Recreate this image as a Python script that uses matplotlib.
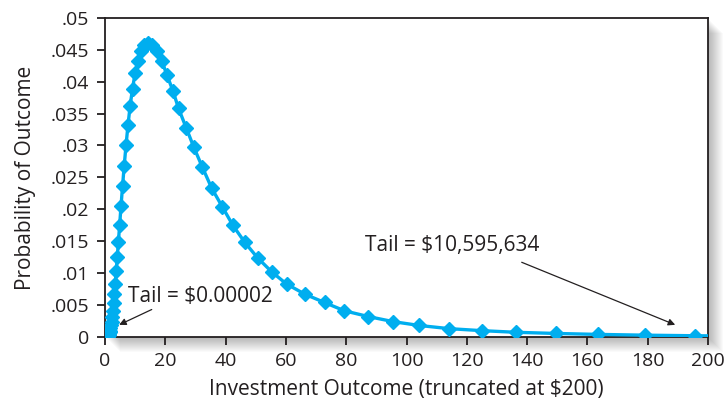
import matplotlib
matplotlib.use("Agg")
import matplotlib.pyplot as plt
from matplotlib.patches import Rectangle

plt.rcParams['font.family'] = ['Open Sans', 'DejaVu Sans']

# outcome nodes (dollars) and their probabilities
outcome = [0.25, 0.27, 0.30, 0.33, 0.36, 0.39, 0.43, 0.47, 0.52, 0.56,
           0.62, 0.68, 0.74, 0.81, 0.88, 0.97, 1.06, 1.16, 1.26, 1.38,
           1.51, 1.66, 1.81, 1.98, 2.17, 2.37, 2.60, 2.84, 3.11, 3.40,
           3.72, 4.07, 4.45, 4.87, 5.32, 5.82, 6.37, 6.97, 7.63, 8.34,
           9.13, 9.98, 10.92, 11.95, 13.07, 14.3, 15.7, 17.2, 18.8, 20.5,
           22.5, 24.4, 26.9, 29.4, 32.2, 35.4, 38.9, 42.4, 46.4, 50.6,
           55.3, 60.2, 66.3, 72.8, 79.4, 87.3, 95.6, 104.2, 114.2, 124.9,
           136.3, 149.5, 163.6, 179.1, 195.7, 214.0]
prob = [0.0, 0.0, 0.0, 0.0, 0.0, 0.000001, 0.000002, 0.000003, 0.000005, 0.000008,
        0.000013, 0.00002, 0.00003, 0.00005, 0.000076, 0.00011, 0.00017, 0.00025, 0.00036, 0.00051,
        0.00071, 0.00099, 0.00135, 0.0018, 0.0024, 0.0032, 0.0041, 0.0053, 0.0067, 0.0083,
        0.0103, 0.0125, 0.0149, 0.0176, 0.0205, 0.0236, 0.0268, 0.0300, 0.0332, 0.0362,
        0.0389, 0.0413, 0.0433, 0.0448, 0.0457, 0.0460, 0.0457, 0.0448, 0.0433, 0.0411,
        0.0386, 0.0358, 0.0328, 0.0298, 0.0267, 0.0233, 0.0204, 0.0175, 0.0148, 0.0124,
        0.0102, 0.0083, 0.0067, 0.0054, 0.0041, 0.0032, 0.0024, 0.0018, 0.0013, 0.00099,
        0.00073, 0.00055, 0.0004, 0.00028, 0.00019, 0.00012]

xticks = [0, 20, 40, 60, 80, 100, 120, 140, 160, 180, 200]
yticks = [0, 0.005, 0.01, 0.015, 0.02, 0.025, 0.03, 0.035, 0.04, 0.045, 0.05]
ytick_labels = ['0', '.005', '.01', '.015', '.02', '.025', '.03', '.035', '.04', '.045', '.05']

blue = '#00aeef'
ink = '#231f20'
fs = 15

fig = plt.figure(figsize=(7.24, 4.05), dpi=100)
ax = fig.add_axes([0.145, 0.168, 0.833, 0.788])
ax.set_zorder(2)
ax.patch.set_facecolor('white')

# soft drop shadow behind the plot box
l, b, w, h = ax.get_position().bounds
for i in range(1, 16):
    dx = i * 1.0 / 724
    dy = i * 1.0 / 405
    fig.patches.append(Rectangle((l + dx, b - dy), w, h, transform=fig.transFigure,
                                 facecolor='black', edgecolor='none', alpha=0.018, zorder=0))

ax.plot(outcome, prob, color=blue, lw=2.4, marker='D', ms=7, mec=blue, mfc=blue,
        clip_on=True, zorder=3)

ax.set_xlim(0, 200)
ax.set_ylim(0, 0.05)
ax.set_xticks(xticks)
ax.set_yticks(yticks)
ax.set_yticklabels(ytick_labels)
ax.tick_params(direction='out', length=5.5, width=1.3, color=ink, labelsize=14,
               labelcolor=ink)
ax.tick_params(axis='x', pad=5)
ax.tick_params(axis='y', pad=6)
for s in ax.spines.values():
    s.set_color(ink)
    s.set_linewidth(1.3)

ax.set_xlabel('Investment Outcome (truncated at \\$200)', fontsize=fs, color=ink, labelpad=7)
ax.set_ylabel('Probability of Outcome', fontsize=fs, color=ink, labelpad=10)

arrow = dict(arrowstyle='-|>', color=ink, lw=0.9, mutation_scale=10, shrinkA=0, shrinkB=0)
ax.annotate('', xy=(4.7, 0.0019), xytext=(15.5, 0.0043), arrowprops=arrow)
ax.text(7.6, 0.0063, 'Tail = \\$0.00002', fontsize=fs, color=ink, va='center', ha='left')
ax.annotate('', xy=(189.1, 0.0019), xytext=(138.2, 0.0117), arrowprops=arrow)
ax.text(86.2, 0.0144, 'Tail = \\$10,595,634', fontsize=fs, color=ink, va='center', ha='left')

fig.savefig('out.png', dpi=100)
